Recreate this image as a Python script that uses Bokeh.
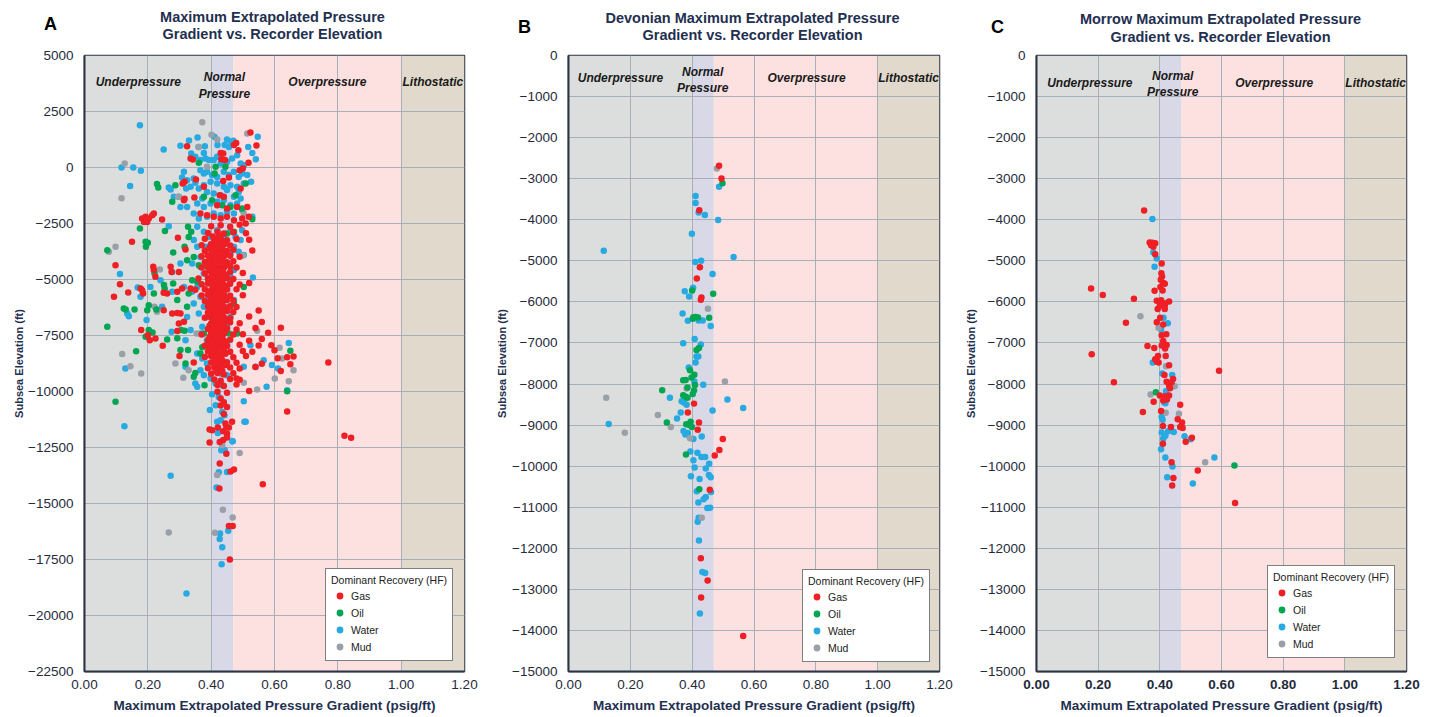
from bokeh.plotting import figure
from bokeh.models import Range1d, FixedTicker, Legend, LegendItem, Label, PrintfTickFormatter
from bokeh.layouts import row
from bokeh.embed import file_html
from bokeh.resources import INLINE
from bokeh.core.properties import value

FONT = "Liberation Sans"
NAVY = "#1f3050"
TICKC = "#1f2b3c"

X_TICKS = [0.0, 0.2, 0.4, 0.6, 0.8, 1.0, 1.2]
BAND_EDGES = [0.0, 0.40, 0.47, 1.00, 1.20]
BAND_COLORS = ["#dcdedd", "#d8d8e7", "#fde0e0", "#e1d9cb"]
BAND_NAMES = ["Underpressure", "Normal\nPressure", "Overpressure", "Lithostatic"]
SERIES = ["Gas", "Oil", "Water", "Mud"]
SERIES_COLORS = {"Gas": "#ee1f25", "Oil": "#00a651", "Water": "#27aae1", "Mud": "#9aa0a8"}
DRAW_ORDER = ["Water", "Mud", "Oil", "Gas"]

A_TITLE = "Maximum Extrapolated Pressure\nGradient vs. Recorder Elevation"
B_TITLE = "Devonian Maximum Extrapolated Pressure\nGradient vs. Recorder Elevation"
C_TITLE = "Morrow Maximum Extrapolated Pressure\nGradient vs. Recorder Elevation"
A_YTICKS = [5000, 2500, 0, -2500, -5000, -7500, -10000, -12500, -15000, -17500, -20000, -22500]
BC_YTICKS = [0, -1000, -2000, -3000, -4000, -5000, -6000, -7000, -8000, -9000, -10000,
             -11000, -12000, -13000, -14000, -15000]

# ---------------- Panel A data ----------------
A_WATER = [
    (0.175, 1890), (0.41, 1370), (0.357, 1340), (0.33, 1200), (0.303, 970), (0.38, 950), (0.36, 920),
    (0.377, 650), (0.337, 620), (0.35, 480), (0.366, 330), (0.25, 800), (0.547, 1370), (0.517, 920),
    (0.541, 370), (0.53, 650), (0.45, 1250), (0.463, 1150), (0.47, 1190), (0.443, 1000), (0.456, 920),
    (0.42, 1000), (0.393, 330), (0.408, 330), (0.419, 480), (0.43, 180), (0.45, 250), (0.466, 400),
    (0.493, 180), (0.503, 100), (0.482, 550), (0.382, 400), (0.117, 0), (0.154, 0), (0.178, -150),
    (0.144, -830), (0.314, -190), (0.308, -450), (0.324, -570), (0.345, -490), (0.35, -680),
    (0.335, -860), (0.321, -940), (0.266, -890), (0.272, -980), (0.282, -1310), (0.298, -1310),
    (0.303, -1760), (0.324, -1760), (0.366, -120), (0.377, -270), (0.387, -190), (0.403, -340),
    (0.419, -420), (0.44, -190), (0.456, -340), (0.472, -190), (0.487, -420), (0.498, -270),
    (0.514, -340), (0.526, -640), (0.503, -710), (0.482, -860), (0.461, -790), (0.44, -860),
    (0.419, -710), (0.398, -640), (0.377, -790), (0.361, -940), (0.387, -1090), (0.408, -1160),
    (0.43, -1240), (0.45, -1010), (0.472, -1310), (0.493, -1380), (0.487, -1090), (0.372, -1380),
    (0.356, -1610), (0.377, -1760), (0.398, -1610), (0.419, -1530), (0.44, -1460), (0.461, -1680),
    (0.482, -1610), (0.498, -1900), (0.472, -2050), (0.45, -1980), (0.43, -2130), (0.408, -2050),
    (0.387, -2200), (0.361, -2280), (0.345, -2050), (0.53, -2200), (0.266, -2620),
    (0.356, -2650), (0.377, -2870), (0.393, -3100), (0.419, -2800), (0.44, -3020), (0.461, -2870),
    (0.477, -3100), (0.493, -3240), (0.498, -2800), (0.345, -3240), (0.356, -3540), (0.387, -3540),
    (0.414, -3320), (0.445, -3390), (0.472, -3540), (0.487, -3760), (0.503, -3910), (0.461, -3840),
    (0.43, -3990), (0.403, -3910), (0.366, -3990), (0.34, -4290), (0.366, -4430), (0.393, -4290),
    (0.419, -4430), (0.45, -4360), (0.472, -4580), (0.532, -4910), (0.377, -4730), (0.403, -4880),
    (0.44, -4810), (0.461, -4880), (0.112, -4750), (0.303, -4290), (0.277, -4660),
    (0.24, -5030), (0.208, -5330), (0.168, -5360), (0.177, -5770), (0.14, -6640), (0.135, -6520),
    (0.196, -6810), (0.245, -6220), (0.277, -5550), (0.314, -5330), (0.34, -5550), (0.356, -5330),
    (0.366, -5770), (0.387, -5920), (0.377, -6220), (0.361, -6520), (0.345, -6070), (0.414, -5180),
    (0.45, -5330), (0.461, -5100), (0.44, -5620), (0.472, -5920), (0.456, -6220), (0.43, -6520),
    (0.387, -6670), (0.403, -6960), (0.372, -7110), (0.45, -7110), (0.461, -6670), (0.324, -6670),
    (0.275, -7330), (0.319, -7710), (0.335, -7260), (0.366, -7410),
    (0.387, -7710), (0.419, -7780), (0.45, -7930), (0.524, -7930), (0.645, -7830), (0.566, -8600),
    (0.592, -8820), (0.611, -8970), (0.503, -8900), (0.54, -8900), (0.64, -9940), (0.575, -9790),
    (0.356, -8300), (0.372, -8530), (0.387, -8750), (0.366, -9050), (0.35, -9640), (0.356, -9790),
    (0.377, -9270), (0.398, -9420), (0.43, -9200), (0.45, -9270), (0.414, -9640), (0.435, -9720),
    (0.403, -10120), (0.424, -10240), (0.396, -10830), (0.414, -10610), (0.435, -10910),
    (0.442, -11060), (0.43, -11280), (0.503, -10430), (0.509, -11350), (0.126, -11550),
    (0.467, -12220), (0.435, -12540), (0.129, -8970), (0.319, -8900),
    (0.419, -11350), (0.421, -11850), (0.468, -12220), (0.505, -11350), (0.438, -12590),
    (0.432, -12620), (0.443, -12620), (0.424, -13600), (0.45, -13590), (0.272, -13760),
    (0.417, -14290), (0.454, -16220), (0.428, -16340), (0.427, -16580), (0.435, -16950),
    (0.433, -17710), (0.322, -19020),
]
A_GAS = [
    (0.524, 1560), (0.543, 980), (0.472, 1000), (0.479, 1090), (0.324, 950), (0.438, 625),
    (0.432, 370), (0.444, 330), (0.486, 770), (0.518, 210), (0.335, 400), (0.342, 360),
    (0.49, -120), (0.50, -40), (0.43, 650),
    (0.352, -540), (0.316, -640), (0.31, -710), (0.347, -1340), (0.316, -1400), (0.314, -1460),
    (0.377, -860), (0.438, -600), (0.456, -450), (0.493, -940), (0.427, -1240), (0.44, -1310),
    (0.482, -1760), (0.514, -1760), (0.45, -1830), (0.419, -1680), (0.366, -2050), (0.387, -2130),
    (0.408, -2200), (0.43, -2280), (0.45, -2200), (0.472, -2350), (0.498, -2280), (0.519, -2200),
    (0.509, -2500), (0.245, -2320),
    (0.182, -2280), (0.193, -2200), (0.203, -2280), (0.188, -2430), (0.198, -2430), (0.214, -2130),
    (0.219, -2050), (0.196, -2320),
    (0.15, -3320), (0.295, -3140), (0.319, -3660), (0.098, -4360), (0.112, -5210), (0.093, -5770),
    (0.138, -5580), (0.177, -5400), (0.185, -5620), (0.182, -5480), (0.217, -4430), (0.224, -4880),
    (0.219, -4580), (0.272, -4430), (0.275, -4660), (0.298, -4660), (0.25, -5590), (0.261, -5620),
    (0.293, -5550), (0.308, -5400), (0.335, -5400), (0.25, -6370), (0.277, -6520), (0.293, -6490),
    (0.298, -6960), (0.314, -6890), (0.303, -6520), (0.179, -7260), (0.206, -7710), (0.20, -7490),
    (0.224, -7630), (0.247, -7960), (0.293, -7300), (0.30, -8420), (0.345, -8700),
    (0.40, -2620), (0.43, -2580), (0.46, -2650), (0.49, -2560),
    (0.39, -2920), (0.42, -2870), (0.44, -2950), (0.47, -2890), (0.51, -2940),
    (0.38, -3180), (0.41, -3230), (0.43, -3160), (0.45, -3250), (0.48, -3190), (0.52, -3220),
    (0.37, -3470), (0.40, -3420), (0.42, -3490), (0.44, -3440), (0.46, -3480),
    (0.38, -3720), (0.40, -3680), (0.41, -3750), (0.43, -3700), (0.45, -3730), (0.47, -3670), (0.53, -3710),
    (0.37, -3960), (0.39, -3930), (0.41, -3990), (0.42, -3910), (0.44, -3970), (0.46, -3940), (0.49, -3980),
    (0.38, -4220), (0.40, -4180), (0.41, -4250), (0.43, -4170), (0.45, -4230), (0.47, -4190),
    (0.37, -4460), (0.39, -4420), (0.40, -4490), (0.42, -4430), (0.44, -4470), (0.46, -4410), (0.48, -4460),
    (0.38, -4720), (0.40, -4680), (0.41, -4740), (0.43, -4690), (0.44, -4730), (0.46, -4670), (0.50, -4710),
    (0.36, -4960), (0.39, -4930), (0.40, -4990), (0.42, -4920), (0.43, -4970), (0.45, -4940), (0.47, -4980),
    (0.37, -5210), (0.39, -5180), (0.41, -5240), (0.42, -5170), (0.44, -5230), (0.46, -5190), (0.49, -5220), (0.52, -5160),
    (0.35, -5460), (0.38, -5430), (0.40, -5480), (0.41, -5420), (0.42, -5470), (0.43, -5410), (0.45, -5450), (0.48, -5440),
    (0.37, -5710), (0.39, -5680), (0.40, -5740), (0.41, -5670), (0.43, -5720), (0.44, -5690), (0.46, -5730), (0.50, -5700),
    (0.38, -5960), (0.40, -5920), (0.41, -5990), (0.42, -5930), (0.43, -5970), (0.45, -5910), (0.47, -5950),
    (0.39, -6210), (0.40, -6170), (0.41, -6240), (0.42, -6180), (0.44, -6220), (0.46, -6190), (0.48, -6230),
    (0.39, -6460), (0.40, -6420), (0.41, -6490), (0.42, -6430), (0.43, -6470), (0.45, -6410), (0.47, -6450), (0.55, -6380),
    (0.38, -6710), (0.40, -6680), (0.41, -6740), (0.42, -6670), (0.43, -6720), (0.44, -6690), (0.46, -6730), (0.52, -6650),
    (0.40, -6960), (0.41, -6920), (0.42, -6990), (0.43, -6930), (0.44, -6970), (0.46, -6910), (0.49, -6950), (0.56, -6900),
    (0.39, -7210), (0.40, -7170), (0.41, -7240), (0.42, -7180), (0.43, -7220), (0.45, -7190), (0.48, -7230), (0.54, -7160), (0.62, -7150),
    (0.37, -7460), (0.40, -7420), (0.41, -7490), (0.42, -7430), (0.43, -7470), (0.44, -7410), (0.47, -7450), (0.50, -7440), (0.58, -7380),
    (0.39, -7710), (0.40, -7680), (0.41, -7740), (0.42, -7670), (0.44, -7720), (0.46, -7690), (0.52, -7730), (0.56, -7660),
    (0.38, -7960), (0.40, -7920), (0.41, -7990), (0.43, -7930), (0.45, -7970), (0.49, -7910), (0.55, -7950), (0.59, -7940),
    (0.39, -8210), (0.41, -8170), (0.42, -8240), (0.44, -8180), (0.46, -8220), (0.50, -8190), (0.53, -8230), (0.60, -8160),
    (0.38, -8460), (0.40, -8420), (0.42, -8490), (0.43, -8430), (0.47, -8470), (0.51, -8410), (0.61, -8520), (0.64, -8470), (0.66, -8440),
    (0.40, -8710), (0.41, -8670), (0.43, -8740), (0.45, -8690), (0.48, -8720), (0.56, -8760), (0.65, -8780), (0.77, -8700),
    (0.39, -8960), (0.41, -8920), (0.43, -8990), (0.46, -8930), (0.49, -8970), (0.54, -8910), (0.62, -9080),
    (0.40, -9210), (0.42, -9170), (0.44, -9240), (0.47, -9180), (0.48, -9420),
    (0.41, -9460), (0.43, -9520), (0.46, -9440), (0.49, -9480),
    (0.42, -9710), (0.44, -9760), (0.48, -9690),
    (0.42, -10010), (0.45, -10060), (0.52, -9980),
    (0.43, -10310), (0.44, -10480), (0.43, -10620), (0.45, -10690), (0.64, -10890), (0.44, -11010),
    (0.405, -3080), (0.425, -3060), (0.415, -3330), (0.435, -3310), (0.395, -3570), (0.415, -3590),
    (0.435, -3560), (0.405, -3820), (0.425, -3840), (0.445, -3810), (0.395, -4070), (0.415, -4090),
    (0.435, -4060), (0.405, -4320), (0.425, -4340), (0.445, -4310), (0.395, -4570), (0.415, -4590),
    (0.435, -4560), (0.405, -4820), (0.425, -4840), (0.445, -4810), (0.395, -5070), (0.415, -5090),
    (0.435, -5060), (0.405, -5320), (0.425, -5340), (0.445, -5310), (0.395, -5570), (0.415, -5590),
    (0.435, -5560), (0.405, -5820), (0.425, -5840), (0.445, -5810), (0.395, -6070), (0.415, -6090),
    (0.435, -6060), (0.405, -6320), (0.425, -6340), (0.445, -6310), (0.395, -6570), (0.415, -6590),
    (0.435, -6560), (0.405, -6820), (0.425, -6840), (0.445, -6810), (0.395, -7070), (0.415, -7090),
    (0.435, -7060), (0.405, -7320), (0.425, -7340), (0.445, -7310), (0.395, -7570), (0.415, -7590),
    (0.435, -7560), (0.405, -7820), (0.425, -7840), (0.445, -7810), (0.395, -8070), (0.415, -8090),
    (0.435, -8060), (0.405, -8320), (0.425, -8340), (0.445, -8310), (0.415, -8570), (0.435, -8590),
    (0.425, -8840), (0.445, -8820), (0.415, -9090), (0.435, -9070),
    (0.395, -11700), (0.403, -11730), (0.421, -11610), (0.438, -11770), (0.448, -11580),
    (0.456, -11610), (0.466, -11350), (0.445, -11430), (0.45, -11880), (0.45, -12050),
    (0.438, -12170), (0.427, -12250), (0.395, -12280), (0.448, -12780), (0.821, -11980),
    (0.842, -12070), (0.427, -13210), (0.461, -13570), (0.472, -13480), (0.563, -14140),
    (0.426, -14330), (0.456, -16010), (0.468, -16010), (0.459, -17500),
]
A_OIL = [
    (0.229, -740), (0.233, -890), (0.287, -790), (0.277, -1530), (0.361, 210), (0.414, 30),
    (0.445, 30), (0.411, -270), (0.175, -2720), (0.193, -3320), (0.20, -3360), (0.194, -3540),
    (0.072, -3690), (0.254, -2840), (0.28, -3790), (0.327, -2650), (0.337, -2870), (0.329, -3100),
    (0.316, -3540), (0.324, -4140), (0.345, -3990), (0.361, -4360), (0.221, -4720), (0.251, -5250),
    (0.253, -5400), (0.28, -5180), (0.219, -5620), (0.124, -6290), (0.13, -6340), (0.158, -6340),
    (0.198, -6370), (0.203, -6150), (0.227, -6340), (0.072, -7110), (0.163, -8200), (0.193, -7560),
    (0.215, -7370), (0.261, -7680), (0.293, -7620), (0.305, -7260), (0.316, -7290), (0.303, -8150),
    (0.327, -8150), (0.319, -8750), (0.35, -9170), (0.379, -9720), (0.098, -10460), (0.329, -5620),
    (0.34, -5030), (0.356, -5100), (0.387, -4430), (0.403, -3990), (0.419, -3240), (0.45, -2950),
    (0.472, -2870), (0.498, -1830), (0.509, -710), (0.53, -2310), (0.377, -1310), (0.403, -1460),
    (0.435, -1680), (0.461, -1760), (0.477, -1240), (0.408, -5700), (0.43, -6070), (0.472, -6070),
    (0.503, -5330), (0.482, -7410), (0.456, -7410), (0.387, -7930), (0.372, -8030), (0.65, -8180),
    (0.64, -9990), (0.345, -9340), (0.377, -7410), (0.203, -7260), (0.293, -5920), (0.324, -6220),
    (0.366, -8300), (0.408, -6740), (0.39, -4980), (0.43, -5480), (0.41, -6330), (0.45, -6860),
]
A_MUD = [
    (0.372, 2020), (0.401, 1460), (0.419, 1250), (0.514, 1520), (0.361, 910), (0.127, 180),
    (0.117, -1370), (0.077, -3760), (0.098, -3540), (0.238, -4550), (0.229, -6440), (0.221, -6220),
    (0.296, -1310), (0.387, 30), (0.501, -3930), (0.461, -6370), (0.545, -7290), (0.616, -8050),
    (0.624, -8530), (0.66, -9050), (0.645, -9540), (0.601, -9420), (0.545, -9910), (0.503, -9610),
    (0.287, -8750), (0.312, -9390), (0.329, -9050), (0.179, -9200), (0.145, -8870), (0.119, -8330),
    (0.445, -6220), (0.354, -7410), (0.503, -2050), (0.435, -12400), (0.49, -12740), (0.419, -13730),
    (0.437, -15280), (0.468, -15620), (0.266, -16290), (0.412, -16310),
]

# ---------------- Panel B data (Devonian) ----------------
B_GAS = [
    (0.487, -2686), (0.495, -2996), (0.423, -3766), (0.425, -5155), (0.415, -5431), (0.430, -5891),
    (0.428, -5950), (0.406, -8477), (0.386, -8695), (0.422, -8937), (0.418, -9113), (0.499, -9339),
    (0.488, -9607), (0.473, -9741), (0.457, -10577), (0.428, -12243), (0.450, -12787),
    (0.429, -13197), (0.565, -14134),
]
B_OIL = [
    (0.498, -3113), (0.400, -5724), (0.468, -5799), (0.404, -6376), (0.411, -6370), (0.419, -6380),
    (0.402, -6410), (0.455, -6385), (0.422, -7121), (0.414, -7172), (0.393, -7665), (0.407, -7774),
    (0.398, -7841), (0.371, -7908), (0.379, -7900), (0.409, -8025), (0.385, -8084), (0.303, -8151),
    (0.406, -8159), (0.402, -8243), (0.371, -8276), (0.379, -8310), (0.385, -8335), (0.318, -8937),
    (0.395, -8920), (0.381, -8980), (0.399, -9046), (0.391, -9000), (0.380, -9716), (0.423, -10561),
]
B_WATER = [
    (0.487, -3197), (0.411, -3423), (0.411, -3590), (0.421, -3824), (0.441, -3883), (0.484, -4008),
    (0.399, -4343), (0.114, -4753), (0.534, -4904), (0.410, -5029), (0.429, -4996), (0.466, -5322),
    (0.403, -5657), (0.376, -5741), (0.390, -5866), (0.369, -6285), (0.421, -6450), (0.434, -6450),
    (0.386, -6460), (0.460, -6586), (0.408, -6904), (0.371, -7004), (0.428, -7038), (0.414, -7331),
    (0.420, -7331), (0.411, -7473), (0.389, -7598), (0.407, -7941), (0.436, -8017), (0.328, -8335),
    (0.366, -8418), (0.373, -8452), (0.382, -8502), (0.514, -8377), (0.565, -8586), (0.466, -8644),
    (0.363, -8695), (0.351, -8837), (0.130, -8971), (0.372, -9146), (0.378, -9230), (0.386, -9190),
    (0.404, -9339), (0.431, -9280), (0.394, -9640), (0.417, -9674), (0.430, -9774), (0.442, -9774),
    (0.404, -9858), (0.408, -10033), (0.455, -9941), (0.444, -10059), (0.396, -10243), (0.424, -10310),
    (0.454, -10218), (0.460, -10268), (0.415, -10611), (0.461, -10628), (0.444, -10753),
    (0.437, -10803), (0.420, -10887), (0.449, -11021), (0.458, -11012), (0.421, -11255),
    (0.418, -11356), (0.422, -11808), (0.433, -12577), (0.442, -12603), (0.425, -13590),
]
B_MUD = [
    (0.480, -2753), (0.451, -6167), (0.506, -7941), (0.382, -8109), (0.122, -8335), (0.289, -8753),
    (0.182, -9188), (0.331, -9046), (0.393, -9322), (0.431, -11255),
]

# ---------------- Panel C data (Morrow) ----------------
C_GAS = [
    (0.349, -3775), (0.367, -4555), (0.376, -4560), (0.385, -4570), (0.372, -4620), (0.379, -4660),
    (0.385, -4837), (0.406, -5062), (0.405, -5303), (0.407, -5380), (0.403, -5460), (0.411, -5540),
    (0.416, -5560), (0.402, -5640), (0.409, -5722), (0.383, -5730), (0.177, -5673), (0.215, -5834),
    (0.316, -5923), (0.390, -5970), (0.404, -5962), (0.411, -6027), (0.400, -6092), (0.416, -6084),
    (0.393, -6172), (0.416, -6172), (0.430, -5990), (0.290, -6510), (0.390, -6494), (0.411, -6550),
    (0.401, -6389), (0.406, -6815), (0.421, -6790), (0.411, -6950), (0.422, -7050), (0.406, -7060),
    (0.417, -7137), (0.360, -7073), (0.382, -7122), (0.179, -7274), (0.394, -7315), (0.419, -7315),
    (0.385, -7395), (0.396, -7475), (0.391, -7460), (0.430, -7540), (0.592, -7677), (0.415, -7781),
    (0.443, -7878), (0.438, -7958), (0.422, -7942), (0.430, -8039), (0.433, -8103), (0.251, -7958),
    (0.400, -8280), (0.417, -8296), (0.430, -8280), (0.411, -8400), (0.423, -8376), (0.380, -8433),
    (0.466, -8505), (0.404, -8658), (0.345, -8682), (0.458, -8859), (0.472, -8939), (0.466, -9044),
    (0.474, -9068), (0.410, -9020), (0.436, -9044), (0.410, -9455), (0.484, -9406), (0.504, -9310),
    (0.438, -9905), (0.523, -10106), (0.444, -10291), (0.440, -10468), (0.644, -10894),
]
C_OIL = [(0.387, -8200), (0.642, -9985)]
C_WATER = [
    (0.376, -3984), (0.379, -4796), (0.390, -4941), (0.383, -5142), (0.412, -6389), (0.426, -6518),
    (0.404, -6671), (0.377, -7475), (0.408, -7741), (0.440, -7781), (0.420, -8175), (0.414, -8441),
    (0.418, -8465), (0.406, -8803), (0.409, -8867), (0.406, -9181), (0.418, -9260), (0.411, -9326),
    (0.427, -9150), (0.445, -9165), (0.404, -9591), (0.480, -9270), (0.500, -9342), (0.418, -9792),
    (0.441, -10010), (0.577, -9792), (0.424, -10267), (0.507, -10420),
]
C_MUD = [
    (0.417, -6027), (0.337, -6349), (0.396, -6631), (0.420, -7564), (0.448, -8055), (0.370, -8256),
    (0.419, -8698), (0.462, -8722), (0.547, -9905),
]


def make_panel(title, letter, ymin, ymax, yticks, width, left, right, top, data,
               band_label_xy, legend_loc, letter_xy, title_xy, ylabel_standoff, bold_x):
    p = figure(width=width, height=716, x_range=Range1d(0, 1.2), y_range=Range1d(ymin, ymax),
               output_backend="svg", toolbar_location=None,
               min_border_left=left, min_border_right=right, min_border_top=top,
               min_border_bottom=45, background_fill_color="white", border_fill_color="white")
    p.title.visible = False

    # pressure regime bands
    p.quad(left=BAND_EDGES[:-1], right=BAND_EDGES[1:], bottom=ymin, top=ymax,
           fill_color=BAND_COLORS, line_color=None, level="image")

    p.outline_line_color = "#2b3445"
    p.outline_line_width = 1.5

    for ax in (p.xaxis[0], p.yaxis[0]):
        ax.axis_line_color = "#2b3445"
        ax.axis_line_width = 2
        ax.major_tick_in = 0
        ax.major_tick_out = 0
        ax.minor_tick_in = 0
        ax.minor_tick_out = 0
        ax.major_label_text_font = FONT
        ax.major_label_text_font_size = "13.5px"
        ax.major_label_text_color = TICKC
        ax.axis_label_text_font = FONT
        ax.axis_label_text_font_style = "bold"
        ax.axis_label_text_color = NAVY

    p.xaxis.ticker = FixedTicker(ticks=X_TICKS)
    p.xaxis.formatter = PrintfTickFormatter(format="%.2f")
    p.xaxis.axis_label = "Maximum Extrapolated Pressure Gradient (psig/ft)"
    p.xaxis.axis_label_text_font_size = "13.5px"
    p.xaxis.major_label_standoff = 8
    p.xaxis.axis_label_standoff = 6
    if bold_x:
        p.xaxis.major_label_text_font_style = "bold"

    p.yaxis.ticker = FixedTicker(ticks=yticks)
    p.yaxis.axis_label = "Subsea Elevation (ft)"
    p.yaxis.axis_label_text_font_size = "11px"
    p.yaxis.major_label_standoff = 11
    p.yaxis.axis_label_standoff = ylabel_standoff

    p.xgrid.ticker = FixedTicker(ticks=X_TICKS)
    p.ygrid.ticker = FixedTicker(ticks=yticks)
    for g in (p.xgrid[0], p.ygrid[0]):
        g.grid_line_color = "#a9afb8"
        g.grid_line_width = 1

    # band labels
    bx, by = band_label_xy
    p.text(x=bx, y=by, text=BAND_NAMES, text_font=value(FONT), text_font_style="bold italic",
           text_font_size="12px", text_align="center", text_baseline="middle",
           text_color="#1a1a1a", text_line_height=1.15)

    # data
    renderers = {}
    for name in DRAW_ORDER:
        pts = data[name]
        renderers[name] = p.scatter(x=[q[0] for q in pts], y=[q[1] for q in pts], size=6.5,
                                    fill_color=SERIES_COLORS[name], line_color=None)

    items = [LegendItem(label=name, renderers=[renderers[name]]) for name in SERIES]
    lg = Legend(items=items, location=legend_loc, title="Dominant Recovery (HF)",
                title_text_font=FONT, title_text_font_size="10.5px", title_text_font_style="normal",
                title_text_color="#222222", title_standoff=1,
                label_text_font=FONT, label_text_font_size="10.5px", label_text_color="#222222",
                label_height=17, glyph_height=17, glyph_width=17, label_standoff=3,
                spacing=0, padding=5, margin=0, border_line_color="black", border_line_width=1,
                background_fill_color="white", background_fill_alpha=1.0)
    p.add_layout(lg)

    # chart title, placed in the top side panel
    p.add_layout(Label(x=title_xy[0], y=title_xy[1], x_units="canvas", y_units="canvas",
                       text=title, text_font=FONT, text_font_size="14.5px", text_font_style="bold",
                       text_color=NAVY, text_align="center", text_baseline="middle",
                       text_line_height=1.08), "above")

    # panel letter: kept in the (empty) right side panel so it is not clipped to the frame
    p.add_layout(Label(x=letter_xy[0], y=letter_xy[1], x_units="canvas", y_units="canvas",
                       text=letter, text_font=FONT, text_font_size="18px", text_font_style="bold",
                       text_color="black", text_align="center", text_baseline="middle",
                       text_line_height=1.0), "right")
    return p


pA = make_panel(A_TITLE, "A", -22500, 5000, A_YTICKS, 488, 84, 24, 55,
                {"Gas": A_GAS, "Oil": A_OIL, "Water": A_WATER, "Mud": A_MUD},
                ([0.17, 0.442, 0.767, 1.10], [3795, 3660, 3795, 3795]),
                (241, 10), (50, 23), (272, 25), 0, False)
pB = make_panel(B_TITLE, "B", -15000, 0, BC_YTICKS, 474, 80, 23, 54,
                {"Gas": B_GAS, "Oil": B_OIL, "Water": B_WATER, "Mud": B_MUD},
                ([0.168, 0.434, 0.770, 1.10], [-559, -596, -559, -559]),
                (234, 9), (36, 26), (264, 26), 1, False)
pC = make_panel(C_TITLE, "C", -15000, 0, BC_YTICKS, 468, 72, 24, 51,
                {"Gas": C_GAS, "Oil": C_OIL, "Water": C_WATER, "Mud": C_MUD},
                ([0.173, 0.442, 0.771, 1.10], [-677, -700, -677, -677]),
                (231, 13), (35, 26), (258, 27.5), 0, True)

layout = row(pA, pB, pC)
open("out.html", "w").write(file_html(layout, INLINE))
